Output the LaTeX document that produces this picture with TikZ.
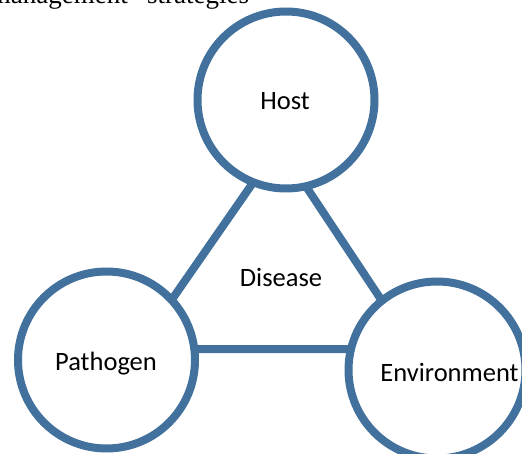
\documentclass[tikz,border=0pt]{standalone}
\usepackage{fontspec}
\setmainfont{Liberation Serif}
\newfontfamily\labelfont{Carlito}
\definecolor{ringblue}{RGB}{65,113,156}
\begin{document}
\begin{tikzpicture}[x=1pt,y=-1pt,
  ring/.style={circle,draw=ringblue,line width=8pt,fill=white,minimum size=177pt,inner sep=0pt},
  edge/.style={draw=ringblue,line width=8pt},
  lbl/.style={font=\labelfont\fontsize{26.5}{30}\selectfont,inner sep=0pt,anchor=base},
  toptext/.style={font=\fontsize{27}{32}\selectfont,inner sep=0pt}]
\useasboundingbox (0,0) rectangle (522,454);
\clip (0,0) rectangle (522,454);
% triangle
\coordinate (tv) at (278.8,145.5);
\coordinate (lv) at (137.6,349);
\coordinate (rv) at (413.9,349);
\draw[edge] (tv) -- (lv) -- (rv) -- cycle;
% circles
\node[ring] (host) at (286,100) {};
\node[ring] (pathogen) at (106.5,360) {};
\node[ring] (env) at (437,370) {};
% labels
\node[lbl] (hostlbl) at (285,110) {Host};
\node[lbl] (pathlbl) at (106,370) {Pathogen};
\node[lbl] (envlbl) at (449.5,381.5) {Environment};
\node[lbl] (dislbl) at (281,287) {Disease};
% top text
\node[toptext,anchor=base east] (mgmt) at (128,3.5) {management};
\node[toptext,anchor=base west] (strat) at (147,3.5) {strategies};
\end{tikzpicture}
\end{document}
